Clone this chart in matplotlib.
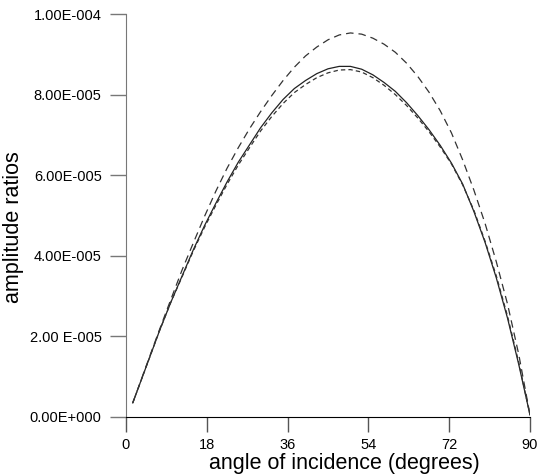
import matplotlib
matplotlib.use("Agg")
import matplotlib.pyplot as plt

# angle of incidence (degrees)
angles = [1.5, 2.5, 5, 7.5, 10, 12.5, 15, 17.5, 20, 22.5, 25, 27.5, 30, 32.5, 35, 37.5,
          40, 42.5, 45, 47.5, 50, 52.5, 55, 57.5, 60, 62.5, 65, 67.5, 70, 72.5, 75, 77.5,
          80, 82.5, 85, 87.5, 90]

# amplitude ratios, in units of 1e-6
solid = [3.5, 6.5, 14, 21.5, 28.5, 35, 41.5, 47.5, 53, 58.3, 63.2, 67.5, 71.8, 75.5, 78.8, 81.5,
         83.5, 85.2, 86.4, 87.0, 87.0, 86.3, 84.9, 83.0, 80.8, 78.0, 74.8, 71.3, 67.4, 63.0, 57.8, 51.0,
         43.3, 34.5, 24.5, 13.0, 0.5]
long_dash = [3.5, 6.5, 14.2, 21.8, 29.2, 36.5, 43.2, 49.8, 56, 61.7, 66.8, 71.5, 75.8, 79.8, 83.5, 86.8,
             89.6, 91.8, 93.6, 94.8, 95.3, 95.0, 94.0, 92.5, 90.5, 87.8, 84.5, 80.6, 76.0, 70.5, 63.8, 56.3,
             48.0, 38.5, 28.0, 15.5, 0.5]
short_dash = [3.5, 6.5, 14, 21.5, 28.5, 34.8, 41.2, 47.1, 52.5, 57.7, 62.5, 66.8, 71.0, 74.6, 77.8, 80.5,
              82.5, 84.2, 85.4, 86.1, 86.2, 85.6, 84.2, 82.3, 80.0, 77.3, 74.2, 70.8, 67.0, 62.8, 57.6, 51.3,
              43.6, 35.0, 25.0, 13.5, 0.5]

xticks = [0, 18, 36, 54, 72, 90]
yticks = [0, 2e-5, 4e-5, 6e-5, 8e-5, 1e-4]
ylabels = ["0.00E+000", "2.00 E-005", "4.00E-005", "6.00E-005", "8.00E-005", "1.00E-004"]

plt.rcParams['font.family'] = ['Liberation Sans', 'DejaVu Sans']

fig = plt.figure(figsize=(5.38, 4.76), dpi=100)
ax = fig.add_axes([126 / 538, 59 / 476, 404 / 538, 403 / 476])

sc = 1e-6
ax.plot(angles, [v * sc for v in solid], color='#222222', lw=0.9)
ax.plot(angles, [v * sc for v in long_dash], color='#333333', lw=0.9, dashes=(6, 4))
ax.plot(angles, [v * sc for v in short_dash], color='#333333', lw=0.9, dashes=(3.5, 2.5))

ax.set_xlim(0, 90)
ax.set_ylim(0, 1e-4)
ax.set_xticks(xticks)
ax.set_xticklabels([str(t) for t in xticks])
ax.set_yticks(yticks)
ax.set_yticklabels(ylabels)

for s in ['top', 'right']:
    ax.spines[s].set_visible(False)
ax.spines['left'].set_color('#777777')
ax.spines['bottom'].set_color('black')

ax.tick_params(axis='y', direction='out', length=11.5, width=1, color='#777777', pad=6, labelsize=10.5)
ax.tick_params(axis='x', direction='out', length=11, width=1, color='#555555', pad=4, labelsize=10.5)

ax.set_xlabel('angle of incidence (degrees)', fontsize=15.5, labelpad=1)
ax.set_ylabel('amplitude ratios', fontsize=15.5, labelpad=4)
ax.xaxis.label.set_x(0.54)
ax.yaxis.label.set_y(0.47)

fig.savefig('out.png', dpi=100)
